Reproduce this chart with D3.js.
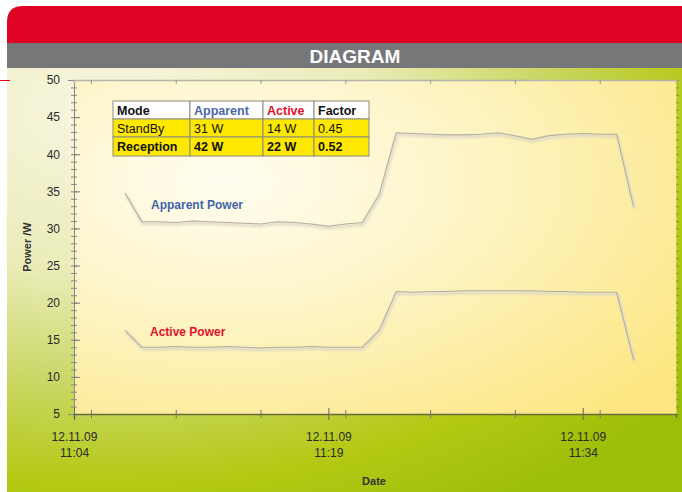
<!DOCTYPE html>
<html>
<head>
<meta charset="utf-8">
<script src="https://cdn.jsdelivr.net/npm/d3@7"></script>
<style>
  body { margin: 0; background: #fff; }
  svg { display: block; font-family: Arial, "Liberation Sans", sans-serif; }
</style>
</head>
<body>
<div class="chart"></div>
<script>
// sample times (12.11.09), one per minute
var times = ['11:07','11:08','11:09','11:10','11:11','11:12','11:13','11:14','11:15','11:16',
             '11:17','11:18','11:19','11:20','11:21','11:22','11:23','11:24','11:25','11:26',
             '11:27','11:28','11:29','11:30','11:31','11:32','11:33','11:34','11:35','11:36','11:37'];
var apparent = [34.8, 30.9, 30.9, 30.8, 31.0, 30.9, 30.8, 30.7, 30.6, 30.9, 30.8, 30.6, 30.3, 30.6, 30.8,
                34.6, 42.9, 42.8, 42.7, 42.6, 42.6, 42.7, 42.9, 42.5, 42.0, 42.5, 42.7, 42.8, 42.7, 42.7, 32.9];
var active = [16.3, 14.0, 14.0, 14.1, 14.0, 14.0, 14.1, 14.0, 13.9, 14.0, 14.0, 14.1, 14.0, 14.0, 14.0,
              16.3, 21.5, 21.4, 21.5, 21.5, 21.6, 21.6, 21.6, 21.6, 21.6, 21.5, 21.5, 21.4, 21.4, 21.4, 12.3];
var xTicks = ['11:04', '11:19', '11:34'];
var yTicks = [5, 10, 15, 20, 25, 30, 35, 40, 45, 50];

var tableHead = ['Mode', 'Apparent', 'Active', 'Factor'];
var tableRows = [
  ['StandBy', '31 W', '14 W', '0.45'],
  ['Reception', '42 W', '22 W', '0.52']
];

var W = 682, H = 492;
var plot = { left: 74, right: 676, top: 80, bottom: 414 };

function at(t) {
  var p = t.split(':');
  return new Date(2009, 10, 12, +p[0], +p[1]);
}

var x = d3.scaleTime()
  .domain([at('11:04'), new Date(2009, 10, 12, 11, 39, 30)])
  .range([plot.left, plot.right]);
var y = d3.scaleLinear().domain([5, 50]).range([plot.bottom, plot.top]);

var svg = d3.select('.chart').append('svg')
  .attr('width', W)
  .attr('height', H);

var defs = svg.append('defs');
var bg = defs.append('radialGradient').attr('id', 'bg')
  .attr('cx', '0.15').attr('cy', '0.1').attr('r', '1.1');
bg.append('stop').attr('offset', '0').attr('stop-color', '#f8f6e2');
bg.append('stop').attr('offset', '0.35').attr('stop-color', '#eaecb8');
bg.append('stop').attr('offset', '0.6').attr('stop-color', '#c8d660');
bg.append('stop').attr('offset', '0.8').attr('stop-color', '#b4c914');
bg.append('stop').attr('offset', '1').attr('stop-color', '#9cbe08');

var pg = defs.append('radialGradient').attr('id', 'plotbg')
  .attr('cx', '0.25').attr('cy', '0.3').attr('r', '0.95');
pg.append('stop').attr('offset', '0').attr('stop-color', '#fffdf0');
pg.append('stop').attr('offset', '0.45').attr('stop-color', '#fdf4c4');
pg.append('stop').attr('offset', '1').attr('stop-color', '#fde680');

var blur = defs.append('filter').attr('id', 'soft');
blur.append('feGaussianBlur').attr('stdDeviation', 1.2);

// header
svg.append('path')
  .attr('d', 'M7,43 L7,22 Q7,6 23,6 L682,6 L682,43 Z')
  .attr('fill', '#e00222');
svg.append('rect').attr('x', 7).attr('y', 43).attr('width', W - 7).attr('height', 25)
  .attr('fill', '#77777a');
svg.append('text')
  .attr('x', 355).attr('y', 63)
  .attr('text-anchor', 'middle')
  .attr('fill', '#fff')
  .attr('font-weight', 'bold')
  .attr('font-size', 19)
  .text('DIAGRAM');

// panel background
svg.append('rect').attr('x', 7).attr('y', 68).attr('width', W - 7).attr('height', H - 68)
  .attr('fill', 'url(#bg)');
svg.append('line').attr('x1', 0).attr('x2', 10).attr('y1', 80.5).attr('y2', 80.5)
  .attr('stroke', '#e00222');

svg.append('rect')
  .attr('x', plot.left).attr('y', plot.top)
  .attr('width', plot.right - plot.left).attr('height', plot.bottom - plot.top)
  .attr('fill', 'url(#plotbg)');

// axes
var minorY = d3.range(5, 51, 1);
svg.append('g')
    .attr('transform', 'translate(' + plot.left + ',0)')
    .call(d3.axisLeft(y).tickValues(minorY).tickSize(3).tickFormat(''))
    .call(function(g) { g.select('.domain').remove(); g.selectAll('line').attr('stroke', '#888').attr('x2', 3).attr('x1', -3); });
svg.append('g')
    .attr('class', 'y axis')
    .attr('transform', 'translate(' + plot.left + ',0)')
    .call(d3.axisLeft(y).tickValues(yTicks).tickSize(6).tickPadding(8).tickFormat(d3.format('d')))
    .call(function(g) {
      g.select('.domain').attr('stroke', '#888');
      g.selectAll('.tick line').attr('stroke', '#777').attr('x2', 6);
      g.selectAll('.tick text').attr('fill', '#2a2a2a').attr('font-size', 12)
        .attr('font-family', 'Arial, "Liberation Sans", sans-serif');
    });

// right edge ticks
svg.append('g')
    .attr('transform', 'translate(' + plot.right + ',0)')
    .call(d3.axisRight(y).tickValues(minorY).tickSize(3).tickFormat(''))
    .call(function(g) { g.select('.domain').attr('stroke', '#c8cc60'); g.selectAll('line').attr('stroke', '#8a9a20'); });

var minorX = d3.timeMinute.every(5).range(at('11:04'), at('11:40'));
svg.append('g')
    .attr('transform', 'translate(0,' + plot.top + ')')
    .call(d3.axisTop(x).tickValues(minorX).tickSize(-4).tickFormat(''))
    .call(function(g) { g.select('.domain').attr('stroke', '#b4b4ac').attr('stroke-width', 1.5); g.selectAll('line').attr('stroke', '#999'); });

svg.append('g')
    .attr('transform', 'translate(0,' + plot.bottom + ')')
    .call(d3.axisBottom(x).tickValues(minorX).tickSize(4).tickFormat(''))
    .call(function(g) {
      g.select('.domain').attr('stroke', '#6a6a3a').attr('stroke-width', 1.5);
      g.selectAll('line').attr('stroke', '#777').attr('y1', -4);
    });

var xAxis = svg.append('g')
    .attr('class', 'x axis')
    .attr('transform', 'translate(0,' + plot.bottom + ')')
    .call(d3.axisBottom(x).tickValues(xTicks.map(at)).tickSize(6).tickFormat(''));
xAxis.select('.domain').remove();
xAxis.selectAll('.tick line').attr('stroke', '#666').attr('y1', -6);
xAxis.selectAll('.tick').each(function(d) {
  var t = d3.select(this).append('text')
    .attr('fill', '#2a2a2a').attr('font-size', 12)
    .attr('font-family', 'Arial, "Liberation Sans", sans-serif')
    .attr('text-anchor', 'middle');
  t.append('tspan').attr('x', 0).attr('y', 27).text('12.11.09');
  t.append('tspan').attr('x', 0).attr('y', 43).text(d3.timeFormat('%H:%M')(d));
});

svg.append('text')
  .attr('transform', 'translate(31,' + (plot.top + plot.bottom) / 2 + ') rotate(-90)')
  .attr('text-anchor', 'middle')
  .attr('font-size', 11).attr('font-weight', 'bold').attr('fill', '#333')
  .text('Power /W');
svg.append('text')
  .attr('x', 374).attr('y', 485)
  .attr('text-anchor', 'middle')
  .attr('font-size', 11).attr('font-weight', 'bold').attr('fill', '#333')
  .text('Date');

// lines
var series = [apparent, active];
var line = d3.line()
  .x(function(d, i) { return x(at(times[i])); })
  .y(function(d) { return y(d); });

series.forEach(function(s) {
  svg.append('path').datum(s)
    .attr('d', line)
    .attr('transform', 'translate(1,2)')
    .attr('fill', 'none')
    .attr('stroke', '#ddd8c6')
    .attr('stroke-width', 2.5)
    .attr('filter', 'url(#soft)');
  svg.append('path').datum(s)
    .attr('d', line)
    .attr('fill', 'none')
    .attr('stroke', '#b3afa2')
    .attr('stroke-width', 1.1);
});

svg.append('text').attr('x', 151).attr('y', 209)
  .attr('font-size', 12).attr('font-weight', 'bold').attr('fill', '#4464a8')
  .text('Apparent Power');
svg.append('text').attr('x', 150).attr('y', 336)
  .attr('font-size', 12).attr('font-weight', 'bold').attr('fill', '#e0102e')
  .text('Active Power');

// table
var colX = [113, 190, 263, 314, 369];
var rowY = [101, 119, 137, 156];
var headColors = ['#111', '#4a68a8', '#e0102e', '#111'];
var table = svg.append('g').attr('class', 'table');

[tableHead].concat(tableRows).forEach(function(row, r) {
  row.forEach(function(cell, c) {
    table.append('rect')
      .attr('x', colX[c]).attr('y', rowY[r])
      .attr('width', colX[c + 1] - colX[c]).attr('height', rowY[r + 1] - rowY[r])
      .attr('fill', r === 0 ? '#fff' : '#ffe800')
      .attr('stroke', '#8c8c80').attr('stroke-width', 1);
    table.append('text')
      .attr('x', colX[c] + 4).attr('y', rowY[r] + 14)
      .attr('font-size', 12.5)
      .attr('font-weight', r === 1 ? 'normal' : 'bold')
      .attr('fill', r === 0 ? headColors[c] : '#111')
      .text(cell);
  });
});
</script>
</body>
</html>
